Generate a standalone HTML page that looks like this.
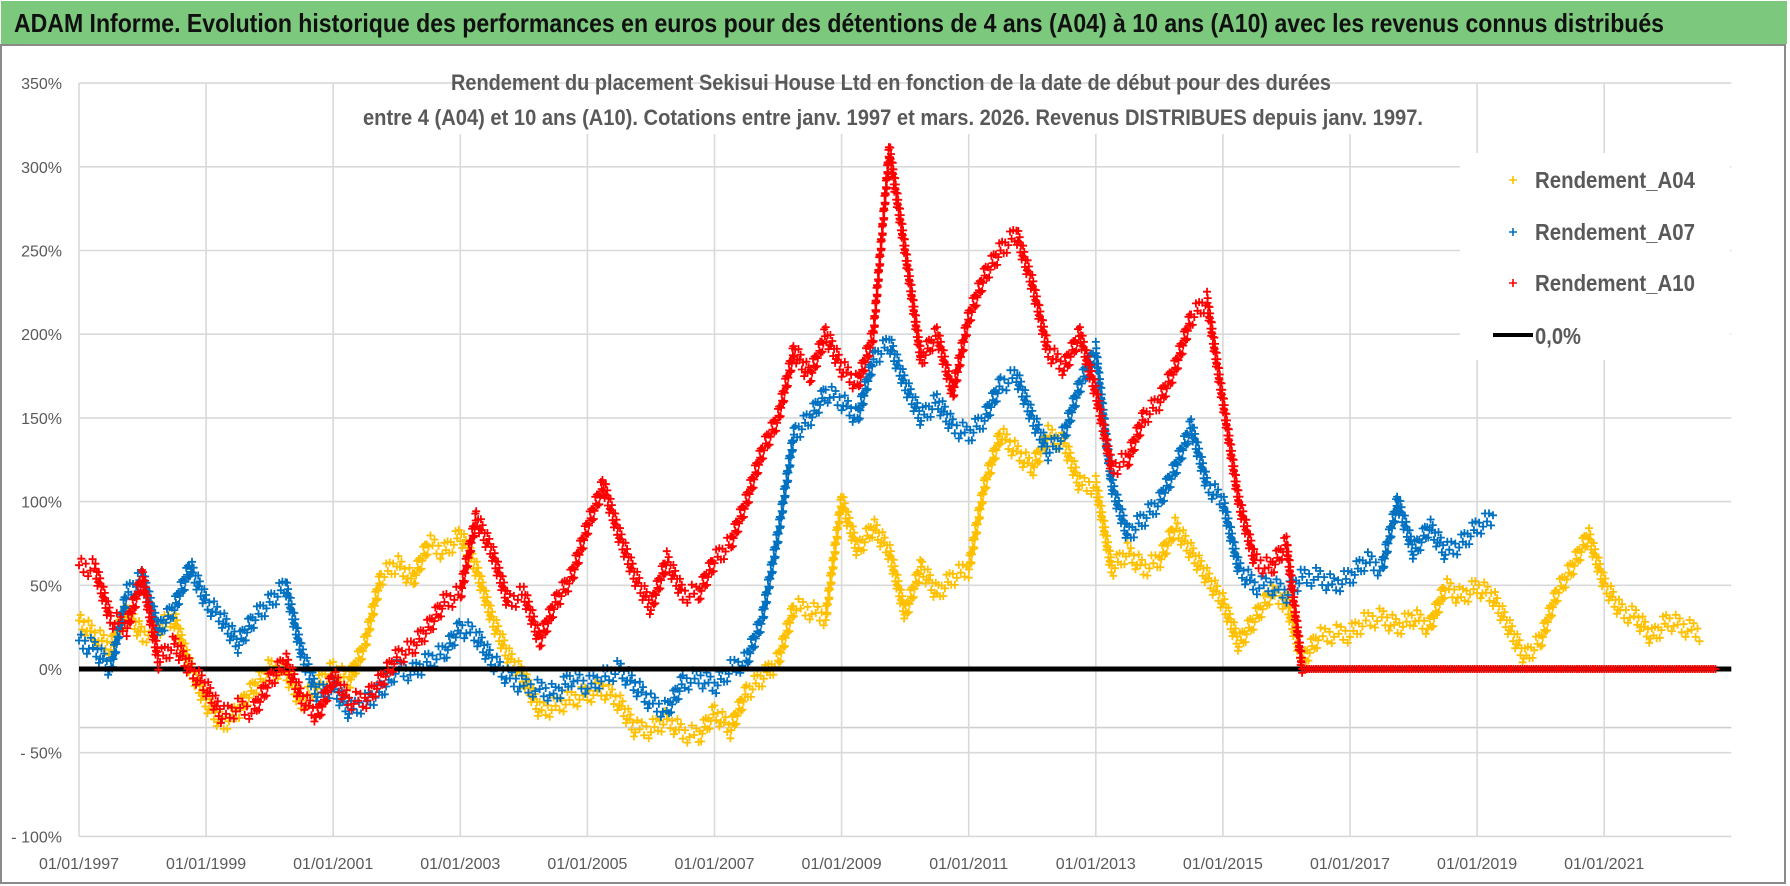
<!DOCTYPE html>
<html><head><meta charset="utf-8"><style>
html,body{margin:0;padding:0;background:#fff;}
svg{display:block;font-family:"Liberation Sans",sans-serif;}
</style></head><body>
<svg id="chart" width="1790" height="886" viewBox="0 0 1790 886" xmlns="http://www.w3.org/2000/svg">
<rect x="0" y="0" width="1790" height="886" fill="#fff"/>
<rect x="1" y="1" width="1786" height="43" fill="#7cc87d"/>
<text x="14" y="32" font-size="26" font-weight="bold" fill="#111" textLength="1650" lengthAdjust="spacingAndGlyphs">ADAM Informe. Evolution historique des performances en euros pour des détentions de 4 ans (A04) à 10 ans (A10) avec les revenus connus distribués</text>
<rect x="1" y="45" width="1784" height="838" fill="none" stroke="#8a8a8a" stroke-width="2"/>
<g id="grid"></g>
<g id="yticks"></g>
<g id="xticks"></g>
<rect x="358" y="84" width="1072" height="50" fill="#fff"/>
<rect x="1460" y="153" width="270" height="207" fill="#fff"/>
<g id="series"></g>
<text x="451" y="90" font-size="22" font-weight="bold" fill="#595959" textLength="880" lengthAdjust="spacingAndGlyphs">Rendement du placement Sekisui House Ltd en fonction de la date de début pour des durées</text>
<text x="363" y="125" font-size="22" font-weight="bold" fill="#595959" textLength="1060" lengthAdjust="spacingAndGlyphs">entre 4 (A04) et 10 ans (A10).  Cotations entre janv. 1997 et mars. 2026. Revenus DISTRIBUES depuis janv. 1997.</text>
<g>
  <g>
    <path d="M1509 180h8M1513 176v8" stroke="#ffc000" stroke-width="1.6"/>
    <text x="1535" y="188" font-size="23" font-weight="bold" fill="#595959" textLength="160" lengthAdjust="spacingAndGlyphs">Rendement_A04</text>
  </g>
  <g>
    <path d="M1509 232h8M1513 228v8" stroke="#0070c0" stroke-width="1.6"/>
    <text x="1535" y="240" font-size="23" font-weight="bold" fill="#595959" textLength="160" lengthAdjust="spacingAndGlyphs">Rendement_A07</text>
  </g>
  <g>
    <path d="M1509 283h8M1513 279v8" stroke="#ff0000" stroke-width="1.6"/>
    <text x="1535" y="291" font-size="23" font-weight="bold" fill="#595959" textLength="160" lengthAdjust="spacingAndGlyphs">Rendement_A10</text>
  </g>
  <g>
    <line x1="1493" y1="335" x2="1533" y2="335" stroke="#000" stroke-width="4"/>
    <text x="1535" y="344" font-size="23" font-weight="bold" fill="#595959" textLength="46" lengthAdjust="spacingAndGlyphs">0,0%</text>
  </g>
</g>
</svg>
<script>
// ---- data (quarterly samples, start year, step 0.25) ----
const yTicks = [350,300,250,200,150,100,50,0,-50,-100];
const yTickLabels = ["350%","300%","250%","200%","150%","100%","50%","0%","- 50%","- 100%"];
const xTickYears = [1997,1999,2001,2003,2005,2007,2009,2011,2013,2015,2017,2019,2021];
const xTickLabels = ["01/01/1997","01/01/1999","01/01/2001","01/01/2003","01/01/2005","01/01/2007","01/01/2009","01/01/2011","01/01/2013","01/01/2015","01/01/2017","01/01/2019","01/01/2021"];
const seriesStart = 1997;
const seriesStep = 0.25;
const rendementA04 = [29,20,13,35, 20,25,30,1, -20,-33,-25,-11, 1,-2,-20,-10, 0,-7,15,55, 63,53,75,70, 80,60,30,8, -5,-25,-22,-18, -15,-12,-20,-36, -36,-30,-38,-40, -26,-36,-14,-5, 5,37,35,31, 101,71,85,70, 33,61,45,55, 60,110,140,130, 120,140,135,110, 110,60,70,60, 65,85,70,55, 40,15,30,45, 40,5,19,21, 21,29,31,25, 31,25,49,43, 49,43,25,7, 17,45,61,80, 51,35,31,19, 29,25,22];
const rendementA07 = [17,12,0,45, 55,23,37,61, 40,30,15,30, 40,50,10,-15, -11,-25,-20,-13, 0,-2,5,10, 25,20,5,-5, -10,-12,-15,-5, -10,-5,0,-10, -20,-25,-8,-5, -10,0,5,30, 80,140,150,165, 160,150,185,195, 170,150,160,145, 140,150,170,175, 150,130,140,170, 190,110,80,90, 100,120,145,110, 100,60,50,50, 45,55,55,50, 55,65,60,100, 70,85,70,75, 85,90];
const rendementA10 = [62,60,30,25, 55,5,15,0, -11,-28,-23,-25, -7,5,-17,-28, -5,-19,-19,-7, 7,13,25,40, 45,90,70,40, 45,17,40,55, 85,110,80,55, 37,65,45,45, 65,75,100,130, 150,190,175,200, 180,170,200,310, 250,185,200,165, 210,235,250,260, 230,190,180,200, 165,120,125,150, 160,180,210,220, 160,100,65,60, 75,0,0,0, 0,0,0,0, 0,0,0,0, 0,0,0,0, 0,0,0,0, 0,0,0,0, 0,0,0,0];
const zeroLine = [0, 0];

// ---- axes ----
const X0 = 79, PX_PER_YEAR = 63.55, Y0 = 669, PX_PER_PCT = 1.674;
const xScale = yr => X0 + (yr - 1997) * PX_PER_YEAR;
const yScale = v => Y0 - v * PX_PER_PCT;
const NS = "http://www.w3.org/2000/svg";
const plotRight = xScale(2023);

const grid = document.getElementById('grid');
yTicks.forEach((v) => {
  const l = document.createElementNS(NS,'line');
  
  
  l.setAttribute('x1', X0); l.setAttribute('x2', plotRight);
  l.setAttribute('y1', yScale(v)); l.setAttribute('y2', yScale(v));
  l.setAttribute('stroke', '#d9d9d9'); l.setAttribute('stroke-width', '1.6');
  grid.appendChild(l);
});
{
  const l = document.createElementNS(NS,'line');
  
  
  l.setAttribute('x1', X0); l.setAttribute('x2', plotRight);
  l.setAttribute('y1', yScale(-35)); l.setAttribute('y2', yScale(-35));
  l.setAttribute('stroke', '#cfcfcf'); l.setAttribute('stroke-width', '1.6');
  grid.appendChild(l);
}
xTickYears.forEach((yr) => {
  const l = document.createElementNS(NS,'line');
  
  
  l.setAttribute('x1', xScale(yr)); l.setAttribute('x2', xScale(yr));
  l.setAttribute('y1', yScale(350)); l.setAttribute('y2', yScale(-100));
  l.setAttribute('stroke', '#d9d9d9'); l.setAttribute('stroke-width', '1.6');
  grid.appendChild(l);
});

const yt = document.getElementById('yticks');
yTicks.forEach((v, i) => {
  const t = document.createElementNS(NS,'text');
  
  
  t.setAttribute('x', 62); t.setAttribute('y', yScale(v) + 6);
  t.setAttribute('text-anchor', 'end'); t.setAttribute('font-size', '16');
  t.setAttribute('fill', '#595959');
  t.textContent = yTickLabels[i];
  yt.appendChild(t);
});
const xt = document.getElementById('xticks');
xTickYears.forEach((yr, i) => {
  const t = document.createElementNS(NS,'text');
  
  
  t.setAttribute('x', xScale(yr)); t.setAttribute('y', 869);
  t.setAttribute('text-anchor', 'middle'); t.setAttribute('font-size', '16');
  t.setAttribute('fill', '#595959');
  t.textContent = xTickLabels[i];
  xt.appendChild(t);
});

// ---- series ----
const layer = document.getElementById('series');
const cloudOffsets = [0, -7, 6, -3, 9, 3, -9];
function drawSeries(values, color, name) {
  const g = document.createElementNS(NS,'g');
  
  
  let d = '';
  const s = 4;
  let c = 0;
  for (let i = 0; i < values.length; i++) {
    const x1 = xScale(seriesStart + i * seriesStep), y1 = yScale(values[i]);
    const hasNext = i + 1 < values.length;
    const x2 = hasNext ? xScale(seriesStart + (i + 1) * seriesStep) : x1;
    const y2 = hasNext ? yScale(values[i + 1]) : y1;
    const n = hasNext ? Math.max(1, Math.round(Math.hypot(x2 - x1, y2 - y1) / 2.2)) : 1;
    const flat = values[i] === 0 && (!hasNext || values[i + 1] === 0);
    for (let k = 0; k < n; k++) {
      const f = k / n;
      const x = x1 + (x2 - x1) * f;
      const y = y1 + (y2 - y1) * f + (flat ? 0 : cloudOffsets[c++ % cloudOffsets.length]);
      d += `M${(x - s).toFixed(1)} ${y.toFixed(1)}h${2 * s}M${x.toFixed(1)} ${(y - s).toFixed(1)}v${2 * s}`;
    }
  }
  const p = document.createElementNS(NS,'path');
  
  
  p.setAttribute('d', d);
  p.setAttribute('stroke', color);
  p.setAttribute('stroke-width', '1.8');
  p.setAttribute('fill', 'none');
  g.appendChild(p);
  layer.appendChild(g);
}
drawSeries(rendementA04, '#ffc000', 'series-rendement-a04');
drawSeries(rendementA07, '#0070c0', 'series-rendement-a07');
{
  const l = document.createElementNS(NS,'line');
  
  
  l.setAttribute('x1', X0); l.setAttribute('x2', plotRight);
  l.setAttribute('y1', yScale(zeroLine[0])); l.setAttribute('y2', yScale(zeroLine[1]));
  l.setAttribute('stroke', '#000'); l.setAttribute('stroke-width', '5');
  layer.appendChild(l);
}
drawSeries(rendementA10, '#ff0000', 'series-rendement-a10');
</script>
</body></html>
